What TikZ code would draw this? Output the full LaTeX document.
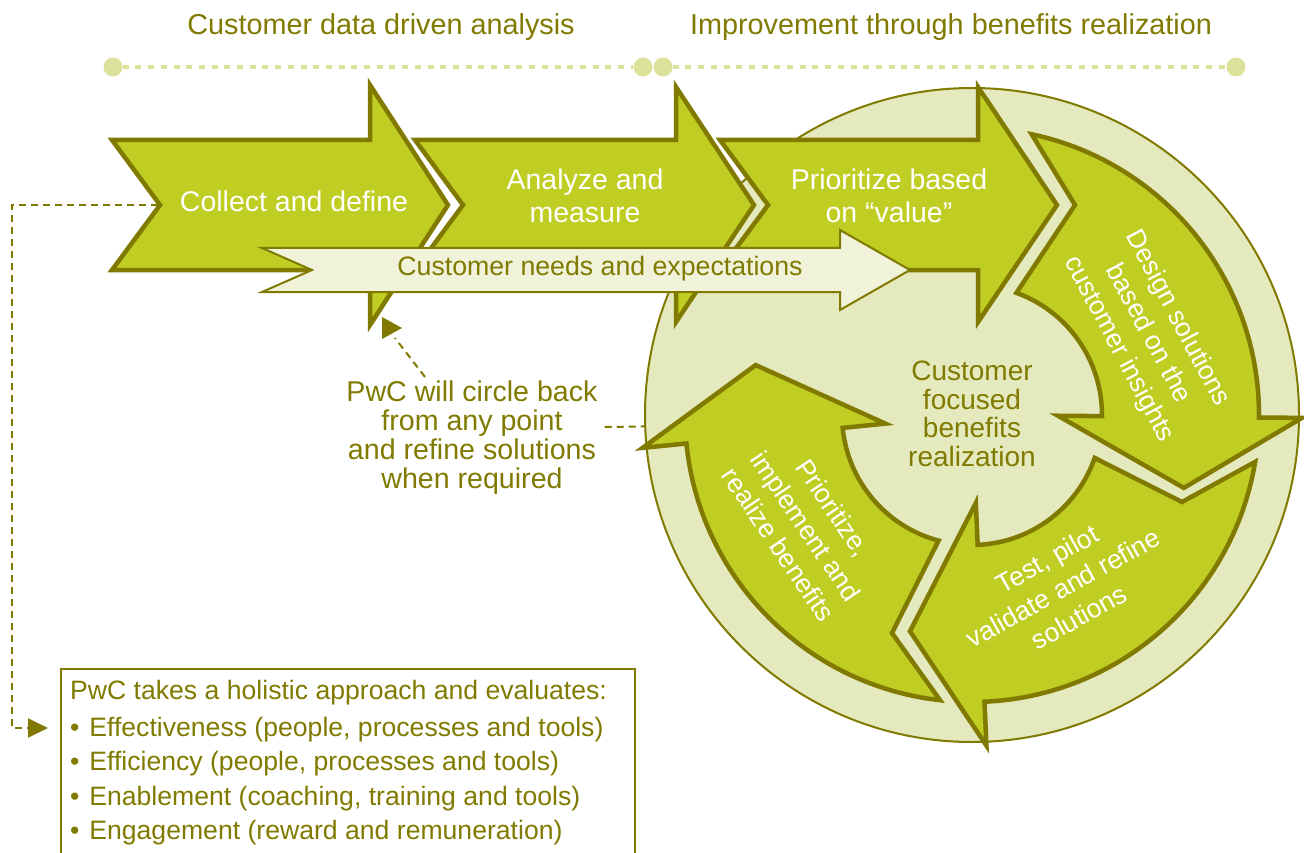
\documentclass[tikz,border=0pt]{standalone}
\usepackage{fontspec}
\setmainfont{Liberation Sans}
\usetikzlibrary{calc,arrows.meta}

\definecolor{pwcOlive}{RGB}{128,122,0}
\definecolor{pwcText}{RGB}{128,122,0}
\definecolor{pwcGreen}{RGB}{192,205,34}
\definecolor{pwcRing}{RGB}{229,233,190}
\definecolor{pwcPale}{RGB}{240,242,218}
\definecolor{pwcDot}{RGB}{221,226,154}

\begin{document}
\begin{tikzpicture}[x=1pt,y=-1pt,
  stagearrow/.style={draw=pwcOlive, line width=4.5pt, fill=pwcGreen, line join=miter},
  needarrow/.style={draw=pwcOlive, line width=2pt, fill=pwcPale, line join=miter},
  tldot/.style={circle, fill=pwcDot, inner sep=0pt, minimum size=19pt},
  tlline/.style={draw=pwcDot, line width=3.3pt, dash pattern=on 6pt off 6.7pt},
  olivedash/.style={draw=pwcOlive, line width=2pt, dash pattern=on 7pt off 5pt},
  titletext/.style={text=pwcText, font=\fontsize{28.8}{33}\selectfont, inner sep=0pt},
  stagetext/.style={text=white, font=\fontsize{28.5}{33}\selectfont, align=center, inner sep=0pt},
  ringtext/.style={text=white, font=\fontsize{26.5}{33}\selectfont, align=center, inner sep=0pt},
  olivetext/.style={text=pwcText, align=center, inner sep=0pt},
]
\useasboundingbox (0,0) rectangle (1304,853);

% timeline headers
\node[titletext] (hdA) at (381,27) {Customer data driven analysis};
\node[titletext] (hdB) at (951,27) {Improvement through benefits realization};
\node[tldot] (dA1) at (113,67) {};
\node[tldot] (dA2) at (643,67) {};
\node[tldot] (dB1) at (663,67) {};
\node[tldot] (dB2) at (1236,67) {};
\draw[tlline] (dA1) -- (dA2);
\draw[tlline] (dB1) -- (dB2);

% benefits cycle background
\node[circle, draw=pwcOlive, line width=2pt, fill=pwcRing, inner sep=0pt,
      minimum size=654pt] (ring) at (972,415) {};

% curved cycle arrows
\draw[stagearrow] ($(ring.center)+(-78:287)$) arc[start angle=-78, end angle=0.5, radius=287]
  -- ($(ring.center)+(0.5:330)$) -- ($(ring.center)+(19:224)$) -- ($(ring.center)+(0.5:86)$)
  -- ($(ring.center)+(0.5:130)$) arc[start angle=0.5, end angle=-70, radius=130]
  -- (1075,205) -- cycle;
\draw[stagearrow] ($(ring.center)+(9.4:287)$) arc[start angle=9.4, end angle=87.5, radius=287]
  -- ($(ring.center)+(87.5:331)$) -- ($(ring.center)+(106:225)$) -- ($(ring.center)+(87.5:88)$)
  -- ($(ring.center)+(87.5:130)$) arc[start angle=87.5, end angle=19.3, radius=130]
  -- (1182,502) -- cycle;
\draw[stagearrow] ($(ring.center)+(96.4:287)$) arc[start angle=96.4, end angle=174.3, radius=287]
  -- ($(ring.center)+(174.3:331)$) -- ($(ring.center)+(193:222)$) -- ($(ring.center)+(174.3:87)$)
  -- ($(ring.center)+(174.3:130)$) arc[start angle=174.3, end angle=104.9, radius=130]
  -- (892,633) -- cycle;

% straight process arrows
\draw[stagearrow] (112,140) -- (370,140) -- (370,85) -- (448,205) -- (370,325) -- (370,270)
  -- (112,270) -- (160,205) -- cycle;
\draw[stagearrow] (415,140) -- (676,140) -- (676,87) -- (754,205) -- (676,322) -- (676,270)
  -- (415,270) -- (463,205) -- cycle;
\draw[stagearrow] (720,140) -- (978,140) -- (978,87) -- (1057,205) -- (978,322) -- (978,270)
  -- (720,270) -- (768,205) -- cycle;
\coordinate (notchA) at (158,205);

% customer needs band
\draw[needarrow] (262,248) -- (840,248) -- (840,230) -- (910,270) -- (840,310) -- (840,292)
  -- (262,292) -- (312,270) -- cycle;

% arrow labels
\node[stagetext] (sCollect) at (294,201) {Collect and define};
\node[stagetext] (sAnalyze) at (585,196) {Analyze and\\measure};
\node[stagetext] (sValue) at (889,196) {Prioritize based\\on “value”};
\node[olivetext, font=\fontsize{26.7}{30}\selectfont] (sNeeds) at (600,269) {Customer needs and expectations};

\node[ringtext, rotate=-62] (rDesign) at (1148,334) {Design solutions\\based on the\\customer insights};
\node[ringtext, rotate=29] (rTest) at (1063,588) {Test, pilot\\validate and refine\\solutions};
\node[ringtext, rotate=-56] (rRealize) at (806,526) {Prioritize,\\implement and\\realize benefits};
\node[olivetext, font=\fontsize{28}{28.7}\selectfont] (rCore) at (972,414)
  {Customer\\focused\\benefits\\realization};

% circle-back note
\node[olivetext, font=\fontsize{28.6}{29}\selectfont] (note) at (472,438)
  {PwC will circle back\\from any point\\and refine solutions\\when required};
\coordinate (backTip) at (395,338);
\draw[olivedash] ($(note.north)+(-47,-4)$) -- (backTip);
\fill[pwcOlive] (382,317) -- (402,328) -- (382,339) -- cycle;
\draw[olivedash] ($(note.east)+(7,-11)$) -- (ring.182);

% evaluation box
\node[draw=pwcOlive, line width=2pt, inner sep=0pt, anchor=north west,
      minimum width=574pt, minimum height=200pt] (evalbox) at (60,668) {};
\node[anchor=north west, text=pwcText, align=left, inner sep=0pt,
      font=\fontsize{26.6}{34.5}\selectfont] (evaltext) at (70,680)
  {PwC takes a holistic approach and evaluates:\\[2.5pt]
   •\hspace{2.5pt} Effectiveness (people, processes and tools)\\
   •\hspace{2.5pt} Efficiency (people, processes and tools)\\
   •\hspace{2.5pt} Enablement (coaching, training and tools)\\
   •\hspace{2.5pt} Engagement (reward and remuneration)};
\coordinate (boxIn) at (48,728);
\draw[olivedash, -{Triangle[length=20pt,width=19pt]}] (notchA) -- (12,205) |- (boxIn);
\end{tikzpicture}
\end{document}
